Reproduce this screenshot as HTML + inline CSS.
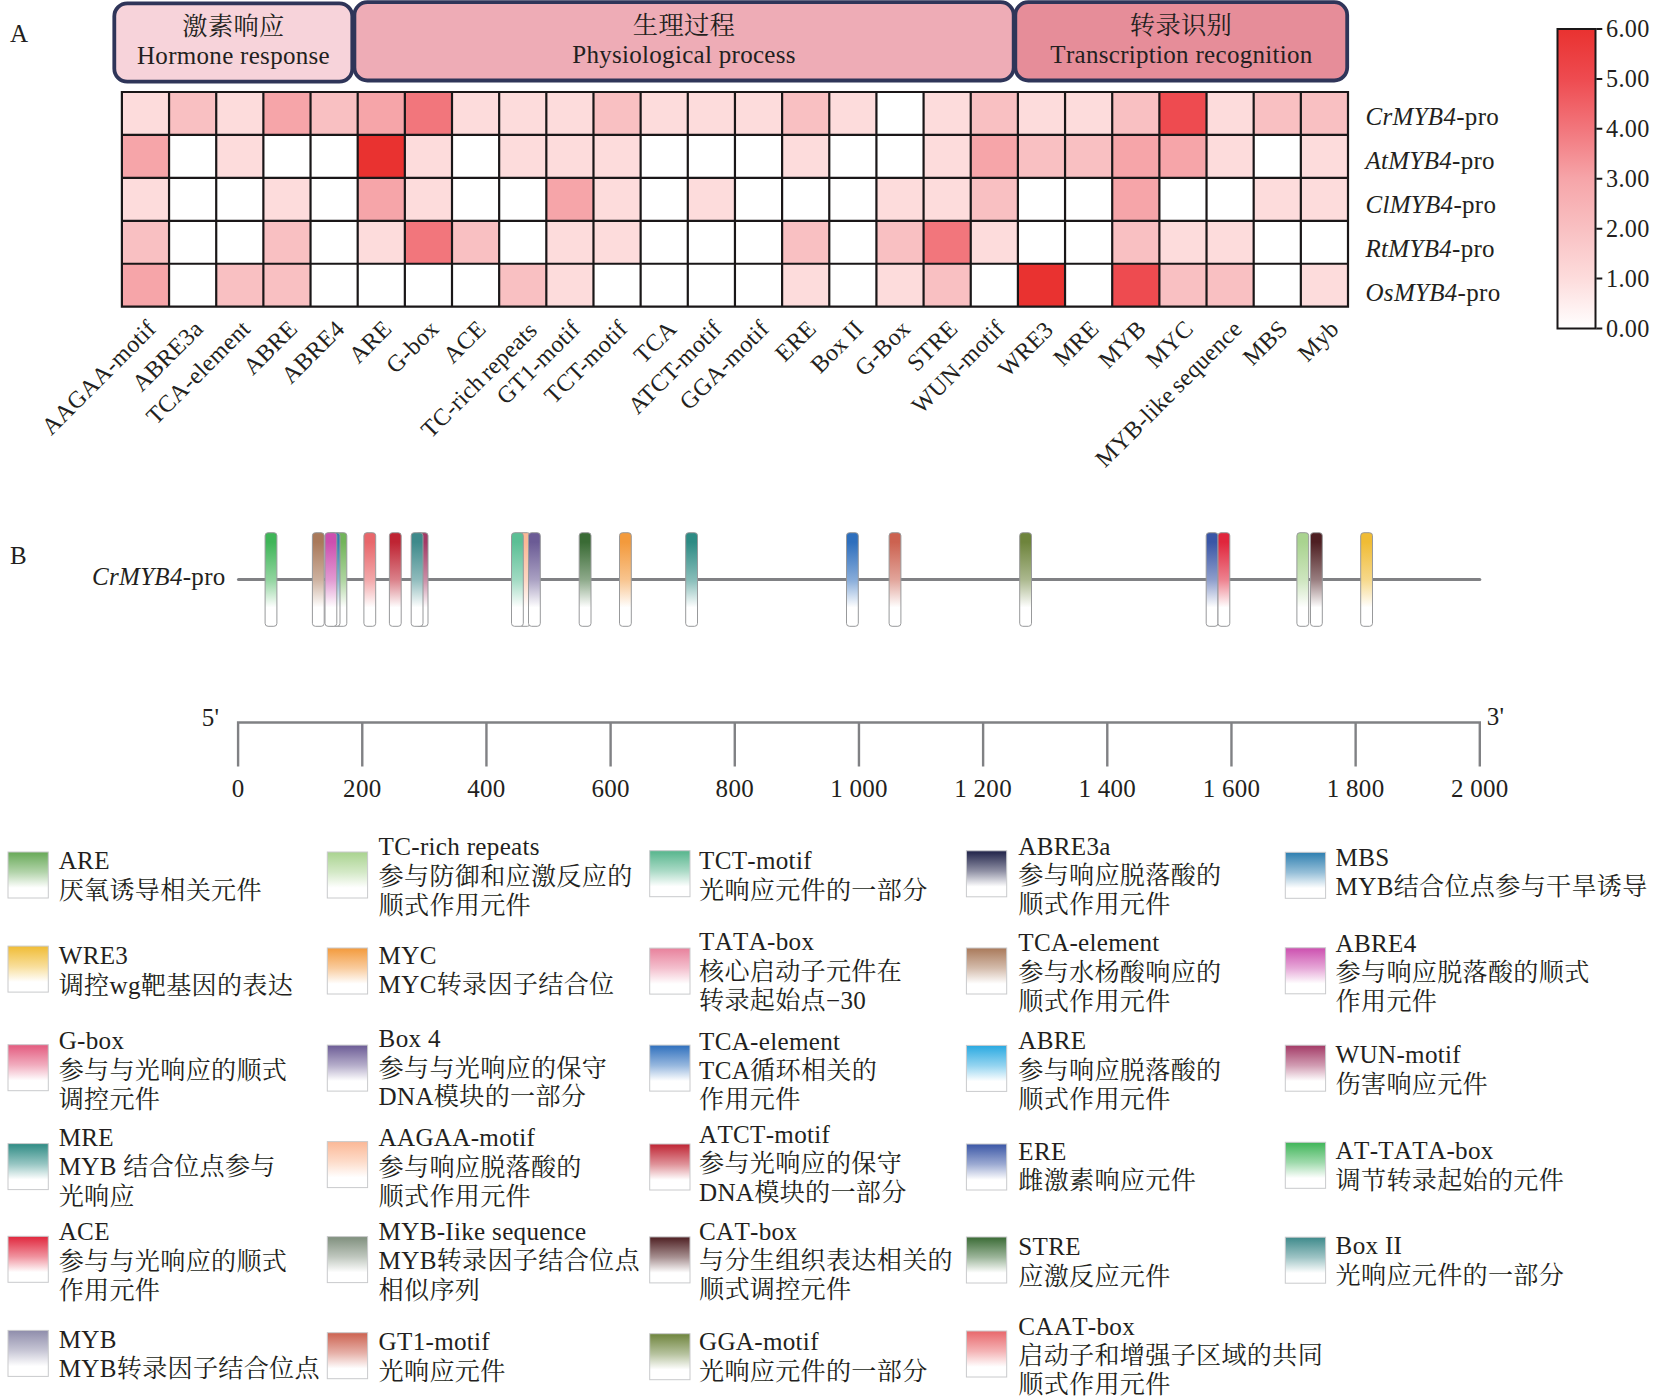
<!DOCTYPE html>
<html lang="zh">
<head>
<meta charset="utf-8">
<title>MYB4 promoter cis-acting elements</title>
<style>
html, body { margin: 0; padding: 0; background: #ffffff; }
body { width: 1654px; height: 1398px; overflow: hidden; }
svg { display: block; font-family: "Liberation Serif", "Noto Serif CJK SC", serif; }
svg text { white-space: pre; letter-spacing: 0.3px; font-kerning: none; }
</style>
</head>
<body>
<svg width="1654" height="1398" viewBox="0 0 1654 1398">
<defs>
<linearGradient id="cb" x1="0" y1="0" x2="0" y2="1"><stop offset="0" stop-color="#e93230"/><stop offset="0.1667" stop-color="#ee4b50"/><stop offset="0.3333" stop-color="#f2767c"/><stop offset="0.5" stop-color="#f6a5a9"/><stop offset="0.6667" stop-color="#f9c0c2"/><stop offset="0.8333" stop-color="#fddcdc"/><stop offset="1" stop-color="#ffffff"/></linearGradient>
<linearGradient id="g0" x1="0" y1="0" x2="0" y2="1"><stop offset="0" stop-color="#3fb558"/><stop offset="0.1" stop-color="#3fb558"/><stop offset="0.500" stop-color="#90d49e"/><stop offset="0.8" stop-color="#ffffff"/><stop offset="1" stop-color="#ffffff"/></linearGradient>
<linearGradient id="g1" x1="0" y1="0" x2="0" y2="1"><stop offset="0" stop-color="#a9795a"/><stop offset="0.1" stop-color="#a9795a"/><stop offset="0.500" stop-color="#cdb19f"/><stop offset="0.8" stop-color="#ffffff"/><stop offset="1" stop-color="#ffffff"/></linearGradient>
<linearGradient id="g2" x1="0" y1="0" x2="0" y2="1"><stop offset="0" stop-color="#72b45a"/><stop offset="0.1" stop-color="#72b45a"/><stop offset="0.500" stop-color="#add49f"/><stop offset="0.8" stop-color="#ffffff"/><stop offset="1" stop-color="#ffffff"/></linearGradient>
<linearGradient id="g3" x1="0" y1="0" x2="0" y2="1"><stop offset="0" stop-color="#2e7fb0"/><stop offset="0.1" stop-color="#2e7fb0"/><stop offset="0.500" stop-color="#86b5d1"/><stop offset="0.8" stop-color="#ffffff"/><stop offset="1" stop-color="#ffffff"/></linearGradient>
<linearGradient id="g4" x1="0" y1="0" x2="0" y2="1"><stop offset="0" stop-color="#cc4faf"/><stop offset="0.1" stop-color="#cc4faf"/><stop offset="0.500" stop-color="#e199d1"/><stop offset="0.8" stop-color="#ffffff"/><stop offset="1" stop-color="#ffffff"/></linearGradient>
<linearGradient id="g5" x1="0" y1="0" x2="0" y2="1"><stop offset="0" stop-color="#e8676b"/><stop offset="0.1" stop-color="#e8676b"/><stop offset="0.500" stop-color="#f2a7a9"/><stop offset="0.8" stop-color="#ffffff"/><stop offset="1" stop-color="#ffffff"/></linearGradient>
<linearGradient id="g6" x1="0" y1="0" x2="0" y2="1"><stop offset="0" stop-color="#bf2433"/><stop offset="0.1" stop-color="#bf2433"/><stop offset="0.500" stop-color="#da8089"/><stop offset="0.8" stop-color="#ffffff"/><stop offset="1" stop-color="#ffffff"/></linearGradient>
<linearGradient id="g7" x1="0" y1="0" x2="0" y2="1"><stop offset="0" stop-color="#a33a66"/><stop offset="0.1" stop-color="#a33a66"/><stop offset="0.500" stop-color="#ca8da6"/><stop offset="0.8" stop-color="#ffffff"/><stop offset="1" stop-color="#ffffff"/></linearGradient>
<linearGradient id="g8" x1="0" y1="0" x2="0" y2="1"><stop offset="0" stop-color="#3e8a8b"/><stop offset="0.1" stop-color="#3e8a8b"/><stop offset="0.500" stop-color="#8fbbbc"/><stop offset="0.8" stop-color="#ffffff"/><stop offset="1" stop-color="#ffffff"/></linearGradient>
<linearGradient id="g9" x1="0" y1="0" x2="0" y2="1"><stop offset="0" stop-color="#fbb896"/><stop offset="0.1" stop-color="#fbb896"/><stop offset="0.500" stop-color="#fdd6c2"/><stop offset="0.8" stop-color="#ffffff"/><stop offset="1" stop-color="#ffffff"/></linearGradient>
<linearGradient id="g10" x1="0" y1="0" x2="0" y2="1"><stop offset="0" stop-color="#5bbf95"/><stop offset="0.1" stop-color="#5bbf95"/><stop offset="0.500" stop-color="#a0dac2"/><stop offset="0.8" stop-color="#ffffff"/><stop offset="1" stop-color="#ffffff"/></linearGradient>
<linearGradient id="g11" x1="0" y1="0" x2="0" y2="1"><stop offset="0" stop-color="#6b5b95"/><stop offset="0.1" stop-color="#6b5b95"/><stop offset="0.500" stop-color="#a9a0c2"/><stop offset="0.8" stop-color="#ffffff"/><stop offset="1" stop-color="#ffffff"/></linearGradient>
<linearGradient id="g12" x1="0" y1="0" x2="0" y2="1"><stop offset="0" stop-color="#3a6b35"/><stop offset="0.1" stop-color="#3a6b35"/><stop offset="0.500" stop-color="#8da98a"/><stop offset="0.8" stop-color="#ffffff"/><stop offset="1" stop-color="#ffffff"/></linearGradient>
<linearGradient id="g13" x1="0" y1="0" x2="0" y2="1"><stop offset="0" stop-color="#f39a3c"/><stop offset="0.1" stop-color="#f39a3c"/><stop offset="0.500" stop-color="#f8c48e"/><stop offset="0.8" stop-color="#ffffff"/><stop offset="1" stop-color="#ffffff"/></linearGradient>
<linearGradient id="g14" x1="0" y1="0" x2="0" y2="1"><stop offset="0" stop-color="#2e8b84"/><stop offset="0.1" stop-color="#2e8b84"/><stop offset="0.500" stop-color="#86bcb8"/><stop offset="0.8" stop-color="#ffffff"/><stop offset="1" stop-color="#ffffff"/></linearGradient>
<linearGradient id="g15" x1="0" y1="0" x2="0" y2="1"><stop offset="0" stop-color="#2e6fbd"/><stop offset="0.1" stop-color="#2e6fbd"/><stop offset="0.500" stop-color="#86abd9"/><stop offset="0.8" stop-color="#ffffff"/><stop offset="1" stop-color="#ffffff"/></linearGradient>
<linearGradient id="g16" x1="0" y1="0" x2="0" y2="1"><stop offset="0" stop-color="#cc6250"/><stop offset="0.1" stop-color="#cc6250"/><stop offset="0.500" stop-color="#e1a49a"/><stop offset="0.8" stop-color="#ffffff"/><stop offset="1" stop-color="#ffffff"/></linearGradient>
<linearGradient id="g17" x1="0" y1="0" x2="0" y2="1"><stop offset="0" stop-color="#6e843c"/><stop offset="0.1" stop-color="#6e843c"/><stop offset="0.500" stop-color="#abb88e"/><stop offset="0.8" stop-color="#ffffff"/><stop offset="1" stop-color="#ffffff"/></linearGradient>
<linearGradient id="g18" x1="0" y1="0" x2="0" y2="1"><stop offset="0" stop-color="#3a56a6"/><stop offset="0.1" stop-color="#3a56a6"/><stop offset="0.500" stop-color="#8d9dcb"/><stop offset="0.8" stop-color="#ffffff"/><stop offset="1" stop-color="#ffffff"/></linearGradient>
<linearGradient id="g19" x1="0" y1="0" x2="0" y2="1"><stop offset="0" stop-color="#e0263c"/><stop offset="0.1" stop-color="#e0263c"/><stop offset="0.500" stop-color="#ed818e"/><stop offset="0.8" stop-color="#ffffff"/><stop offset="1" stop-color="#ffffff"/></linearGradient>
<linearGradient id="g20" x1="0" y1="0" x2="0" y2="1"><stop offset="0" stop-color="#a9d38f"/><stop offset="0.1" stop-color="#a9d38f"/><stop offset="0.500" stop-color="#cde5be"/><stop offset="0.8" stop-color="#ffffff"/><stop offset="1" stop-color="#ffffff"/></linearGradient>
<linearGradient id="g21" x1="0" y1="0" x2="0" y2="1"><stop offset="0" stop-color="#4e1f22"/><stop offset="0.1" stop-color="#4e1f22"/><stop offset="0.500" stop-color="#987d7f"/><stop offset="0.8" stop-color="#ffffff"/><stop offset="1" stop-color="#ffffff"/></linearGradient>
<linearGradient id="g22" x1="0" y1="0" x2="0" y2="1"><stop offset="0" stop-color="#f0bc35"/><stop offset="0.1" stop-color="#f0bc35"/><stop offset="0.500" stop-color="#f6d88a"/><stop offset="0.8" stop-color="#ffffff"/><stop offset="1" stop-color="#ffffff"/></linearGradient>
<linearGradient id="g23" x1="0" y1="0" x2="0" y2="1"><stop offset="0" stop-color="#67a957"/><stop offset="0.0" stop-color="#67a957"/><stop offset="0.440" stop-color="#b3d4ab"/><stop offset="0.78" stop-color="#ffffff"/><stop offset="1" stop-color="#ffffff"/></linearGradient>
<linearGradient id="g24" x1="0" y1="0" x2="0" y2="1"><stop offset="0" stop-color="#f0bc35"/><stop offset="0.0" stop-color="#f0bc35"/><stop offset="0.440" stop-color="#f8de9a"/><stop offset="0.78" stop-color="#ffffff"/><stop offset="1" stop-color="#ffffff"/></linearGradient>
<linearGradient id="g25" x1="0" y1="0" x2="0" y2="1"><stop offset="0" stop-color="#e35a7e"/><stop offset="0.0" stop-color="#e35a7e"/><stop offset="0.440" stop-color="#f1acbe"/><stop offset="0.78" stop-color="#ffffff"/><stop offset="1" stop-color="#ffffff"/></linearGradient>
<linearGradient id="g26" x1="0" y1="0" x2="0" y2="1"><stop offset="0" stop-color="#2e8b84"/><stop offset="0.0" stop-color="#2e8b84"/><stop offset="0.440" stop-color="#96c5c2"/><stop offset="0.78" stop-color="#ffffff"/><stop offset="1" stop-color="#ffffff"/></linearGradient>
<linearGradient id="g27" x1="0" y1="0" x2="0" y2="1"><stop offset="0" stop-color="#e0263c"/><stop offset="0.0" stop-color="#e0263c"/><stop offset="0.440" stop-color="#f0929e"/><stop offset="0.78" stop-color="#ffffff"/><stop offset="1" stop-color="#ffffff"/></linearGradient>
<linearGradient id="g28" x1="0" y1="0" x2="0" y2="1"><stop offset="0" stop-color="#8f8dab"/><stop offset="0.0" stop-color="#8f8dab"/><stop offset="0.440" stop-color="#c7c6d5"/><stop offset="0.78" stop-color="#ffffff"/><stop offset="1" stop-color="#ffffff"/></linearGradient>
<linearGradient id="g29" x1="0" y1="0" x2="0" y2="1"><stop offset="0" stop-color="#a9d38f"/><stop offset="0.0" stop-color="#a9d38f"/><stop offset="0.440" stop-color="#d4e9c7"/><stop offset="0.78" stop-color="#ffffff"/><stop offset="1" stop-color="#ffffff"/></linearGradient>
<linearGradient id="g30" x1="0" y1="0" x2="0" y2="1"><stop offset="0" stop-color="#f39a3c"/><stop offset="0.0" stop-color="#f39a3c"/><stop offset="0.440" stop-color="#f9cc9e"/><stop offset="0.78" stop-color="#ffffff"/><stop offset="1" stop-color="#ffffff"/></linearGradient>
<linearGradient id="g31" x1="0" y1="0" x2="0" y2="1"><stop offset="0" stop-color="#6b5b95"/><stop offset="0.0" stop-color="#6b5b95"/><stop offset="0.440" stop-color="#b5adca"/><stop offset="0.78" stop-color="#ffffff"/><stop offset="1" stop-color="#ffffff"/></linearGradient>
<linearGradient id="g32" x1="0" y1="0" x2="0" y2="1"><stop offset="0" stop-color="#fbb896"/><stop offset="0.0" stop-color="#fbb896"/><stop offset="0.440" stop-color="#fddcca"/><stop offset="0.78" stop-color="#ffffff"/><stop offset="1" stop-color="#ffffff"/></linearGradient>
<linearGradient id="g33" x1="0" y1="0" x2="0" y2="1"><stop offset="0" stop-color="#7f8f7d"/><stop offset="0.0" stop-color="#7f8f7d"/><stop offset="0.440" stop-color="#bfc7be"/><stop offset="0.78" stop-color="#ffffff"/><stop offset="1" stop-color="#ffffff"/></linearGradient>
<linearGradient id="g34" x1="0" y1="0" x2="0" y2="1"><stop offset="0" stop-color="#cc6250"/><stop offset="0.0" stop-color="#cc6250"/><stop offset="0.440" stop-color="#e6b0a8"/><stop offset="0.78" stop-color="#ffffff"/><stop offset="1" stop-color="#ffffff"/></linearGradient>
<linearGradient id="g35" x1="0" y1="0" x2="0" y2="1"><stop offset="0" stop-color="#56b58c"/><stop offset="0.0" stop-color="#56b58c"/><stop offset="0.440" stop-color="#aadac6"/><stop offset="0.78" stop-color="#ffffff"/><stop offset="1" stop-color="#ffffff"/></linearGradient>
<linearGradient id="g36" x1="0" y1="0" x2="0" y2="1"><stop offset="0" stop-color="#e8819c"/><stop offset="0.0" stop-color="#e8819c"/><stop offset="0.440" stop-color="#f4c0ce"/><stop offset="0.78" stop-color="#ffffff"/><stop offset="1" stop-color="#ffffff"/></linearGradient>
<linearGradient id="g37" x1="0" y1="0" x2="0" y2="1"><stop offset="0" stop-color="#2e6fbd"/><stop offset="0.0" stop-color="#2e6fbd"/><stop offset="0.440" stop-color="#96b7de"/><stop offset="0.78" stop-color="#ffffff"/><stop offset="1" stop-color="#ffffff"/></linearGradient>
<linearGradient id="g38" x1="0" y1="0" x2="0" y2="1"><stop offset="0" stop-color="#bf2433"/><stop offset="0.0" stop-color="#bf2433"/><stop offset="0.440" stop-color="#df9299"/><stop offset="0.78" stop-color="#ffffff"/><stop offset="1" stop-color="#ffffff"/></linearGradient>
<linearGradient id="g39" x1="0" y1="0" x2="0" y2="1"><stop offset="0" stop-color="#4e1f22"/><stop offset="0.0" stop-color="#4e1f22"/><stop offset="0.440" stop-color="#a68f90"/><stop offset="0.78" stop-color="#ffffff"/><stop offset="1" stop-color="#ffffff"/></linearGradient>
<linearGradient id="g40" x1="0" y1="0" x2="0" y2="1"><stop offset="0" stop-color="#6e843c"/><stop offset="0.0" stop-color="#6e843c"/><stop offset="0.440" stop-color="#b6c29e"/><stop offset="0.78" stop-color="#ffffff"/><stop offset="1" stop-color="#ffffff"/></linearGradient>
<linearGradient id="g41" x1="0" y1="0" x2="0" y2="1"><stop offset="0" stop-color="#1f2148"/><stop offset="0.0" stop-color="#1f2148"/><stop offset="0.440" stop-color="#8f90a4"/><stop offset="0.78" stop-color="#ffffff"/><stop offset="1" stop-color="#ffffff"/></linearGradient>
<linearGradient id="g42" x1="0" y1="0" x2="0" y2="1"><stop offset="0" stop-color="#a9795a"/><stop offset="0.0" stop-color="#a9795a"/><stop offset="0.440" stop-color="#d4bcac"/><stop offset="0.78" stop-color="#ffffff"/><stop offset="1" stop-color="#ffffff"/></linearGradient>
<linearGradient id="g43" x1="0" y1="0" x2="0" y2="1"><stop offset="0" stop-color="#29a9e1"/><stop offset="0.0" stop-color="#29a9e1"/><stop offset="0.440" stop-color="#94d4f0"/><stop offset="0.78" stop-color="#ffffff"/><stop offset="1" stop-color="#ffffff"/></linearGradient>
<linearGradient id="g44" x1="0" y1="0" x2="0" y2="1"><stop offset="0" stop-color="#3a56a6"/><stop offset="0.0" stop-color="#3a56a6"/><stop offset="0.440" stop-color="#9caad2"/><stop offset="0.78" stop-color="#ffffff"/><stop offset="1" stop-color="#ffffff"/></linearGradient>
<linearGradient id="g45" x1="0" y1="0" x2="0" y2="1"><stop offset="0" stop-color="#3a6b35"/><stop offset="0.0" stop-color="#3a6b35"/><stop offset="0.440" stop-color="#9cb59a"/><stop offset="0.78" stop-color="#ffffff"/><stop offset="1" stop-color="#ffffff"/></linearGradient>
<linearGradient id="g46" x1="0" y1="0" x2="0" y2="1"><stop offset="0" stop-color="#e8676b"/><stop offset="0.0" stop-color="#e8676b"/><stop offset="0.440" stop-color="#f4b3b5"/><stop offset="0.78" stop-color="#ffffff"/><stop offset="1" stop-color="#ffffff"/></linearGradient>
<linearGradient id="g47" x1="0" y1="0" x2="0" y2="1"><stop offset="0" stop-color="#2e7fb0"/><stop offset="0.0" stop-color="#2e7fb0"/><stop offset="0.440" stop-color="#96bfd8"/><stop offset="0.78" stop-color="#ffffff"/><stop offset="1" stop-color="#ffffff"/></linearGradient>
<linearGradient id="g48" x1="0" y1="0" x2="0" y2="1"><stop offset="0" stop-color="#cc4faf"/><stop offset="0.0" stop-color="#cc4faf"/><stop offset="0.440" stop-color="#e6a7d7"/><stop offset="0.78" stop-color="#ffffff"/><stop offset="1" stop-color="#ffffff"/></linearGradient>
<linearGradient id="g49" x1="0" y1="0" x2="0" y2="1"><stop offset="0" stop-color="#a33a66"/><stop offset="0.0" stop-color="#a33a66"/><stop offset="0.440" stop-color="#d19cb2"/><stop offset="0.78" stop-color="#ffffff"/><stop offset="1" stop-color="#ffffff"/></linearGradient>
<linearGradient id="g50" x1="0" y1="0" x2="0" y2="1"><stop offset="0" stop-color="#3fb558"/><stop offset="0.0" stop-color="#3fb558"/><stop offset="0.440" stop-color="#9fdaac"/><stop offset="0.78" stop-color="#ffffff"/><stop offset="1" stop-color="#ffffff"/></linearGradient>
<linearGradient id="g51" x1="0" y1="0" x2="0" y2="1"><stop offset="0" stop-color="#3e8a8b"/><stop offset="0.0" stop-color="#3e8a8b"/><stop offset="0.440" stop-color="#9ec4c5"/><stop offset="0.78" stop-color="#ffffff"/><stop offset="1" stop-color="#ffffff"/></linearGradient>
</defs>
<rect x="114.3" y="3.3" width="238.0" height="78.4" rx="13" ry="13" fill="#f7d3da" stroke="#2f3559" stroke-width="3.8"/>
<rect x="354.4" y="2.2" width="659.3" height="78.3" rx="13" ry="13" fill="#eeacb6" stroke="#2f3559" stroke-width="3.8"/>
<rect x="1015.3" y="2.2" width="331.9" height="78.3" rx="13" ry="13" fill="#e68d99" stroke="#2f3559" stroke-width="3.8"/>
<text x="233.5" y="35.2" font-size="25.3" text-anchor="middle" fill="#231f20" >激素响应</text>
<text x="233.5" y="63.5" font-size="25" text-anchor="middle" fill="#231f20" >Hormone response</text>
<text x="684.0" y="33.8" font-size="25.3" text-anchor="middle" fill="#231f20" >生理过程</text>
<text x="684.0" y="62.5" font-size="25" text-anchor="middle" fill="#231f20" >Physiological process</text>
<text x="1181.0" y="33.8" font-size="25.3" text-anchor="middle" fill="#231f20" >转录识别</text>
<text x="1181.5" y="62.5" font-size="25" text-anchor="middle" fill="#231f20" letter-spacing="0.15">Transcription recognition</text>
<text x="10.0" y="41.5" font-size="25" text-anchor="start" fill="#231f20" >A</text>
<text x="10.0" y="563.6" font-size="25" text-anchor="start" fill="#231f20" >B</text>
<rect x="121.90" y="92.00" width="47.16" height="42.94" fill="#fddcdc"/>
<rect x="169.06" y="92.00" width="47.16" height="42.94" fill="#f9c0c2"/>
<rect x="216.22" y="92.00" width="47.16" height="42.94" fill="#fddcdc"/>
<rect x="263.37" y="92.00" width="47.16" height="42.94" fill="#f6a5a9"/>
<rect x="310.53" y="92.00" width="47.16" height="42.94" fill="#f9c0c2"/>
<rect x="357.69" y="92.00" width="47.16" height="42.94" fill="#f6a5a9"/>
<rect x="404.85" y="92.00" width="47.16" height="42.94" fill="#f2767c"/>
<rect x="452.00" y="92.00" width="47.16" height="42.94" fill="#fddcdc"/>
<rect x="499.16" y="92.00" width="47.16" height="42.94" fill="#fddcdc"/>
<rect x="546.32" y="92.00" width="47.16" height="42.94" fill="#fddcdc"/>
<rect x="593.48" y="92.00" width="47.16" height="42.94" fill="#f9c0c2"/>
<rect x="640.63" y="92.00" width="47.16" height="42.94" fill="#fddcdc"/>
<rect x="687.79" y="92.00" width="47.16" height="42.94" fill="#fddcdc"/>
<rect x="734.95" y="92.00" width="47.16" height="42.94" fill="#fddcdc"/>
<rect x="782.11" y="92.00" width="47.16" height="42.94" fill="#f9c0c2"/>
<rect x="829.27" y="92.00" width="47.16" height="42.94" fill="#fddcdc"/>
<rect x="923.58" y="92.00" width="47.16" height="42.94" fill="#fddcdc"/>
<rect x="970.74" y="92.00" width="47.16" height="42.94" fill="#f9c0c2"/>
<rect x="1017.90" y="92.00" width="47.16" height="42.94" fill="#fddcdc"/>
<rect x="1065.05" y="92.00" width="47.16" height="42.94" fill="#fddcdc"/>
<rect x="1112.21" y="92.00" width="47.16" height="42.94" fill="#f9c0c2"/>
<rect x="1159.37" y="92.00" width="47.16" height="42.94" fill="#ee4b50"/>
<rect x="1206.53" y="92.00" width="47.16" height="42.94" fill="#fddcdc"/>
<rect x="1253.68" y="92.00" width="47.16" height="42.94" fill="#f9c0c2"/>
<rect x="1300.84" y="92.00" width="47.16" height="42.94" fill="#f9c0c2"/>
<rect x="121.90" y="134.94" width="47.16" height="42.94" fill="#f6a5a9"/>
<rect x="216.22" y="134.94" width="47.16" height="42.94" fill="#fddcdc"/>
<rect x="357.69" y="134.94" width="47.16" height="42.94" fill="#e93230"/>
<rect x="404.85" y="134.94" width="47.16" height="42.94" fill="#fddcdc"/>
<rect x="499.16" y="134.94" width="47.16" height="42.94" fill="#fddcdc"/>
<rect x="546.32" y="134.94" width="47.16" height="42.94" fill="#fddcdc"/>
<rect x="593.48" y="134.94" width="47.16" height="42.94" fill="#fddcdc"/>
<rect x="782.11" y="134.94" width="47.16" height="42.94" fill="#fddcdc"/>
<rect x="923.58" y="134.94" width="47.16" height="42.94" fill="#fddcdc"/>
<rect x="970.74" y="134.94" width="47.16" height="42.94" fill="#f6a5a9"/>
<rect x="1017.90" y="134.94" width="47.16" height="42.94" fill="#f9c0c2"/>
<rect x="1065.05" y="134.94" width="47.16" height="42.94" fill="#f9c0c2"/>
<rect x="1112.21" y="134.94" width="47.16" height="42.94" fill="#f6a5a9"/>
<rect x="1159.37" y="134.94" width="47.16" height="42.94" fill="#f6a5a9"/>
<rect x="1206.53" y="134.94" width="47.16" height="42.94" fill="#fddcdc"/>
<rect x="1300.84" y="134.94" width="47.16" height="42.94" fill="#fddcdc"/>
<rect x="121.90" y="177.88" width="47.16" height="42.94" fill="#fddcdc"/>
<rect x="263.37" y="177.88" width="47.16" height="42.94" fill="#fddcdc"/>
<rect x="357.69" y="177.88" width="47.16" height="42.94" fill="#f6a5a9"/>
<rect x="404.85" y="177.88" width="47.16" height="42.94" fill="#fddcdc"/>
<rect x="546.32" y="177.88" width="47.16" height="42.94" fill="#f6a5a9"/>
<rect x="593.48" y="177.88" width="47.16" height="42.94" fill="#fddcdc"/>
<rect x="687.79" y="177.88" width="47.16" height="42.94" fill="#fddcdc"/>
<rect x="876.42" y="177.88" width="47.16" height="42.94" fill="#fddcdc"/>
<rect x="923.58" y="177.88" width="47.16" height="42.94" fill="#fddcdc"/>
<rect x="970.74" y="177.88" width="47.16" height="42.94" fill="#f9c0c2"/>
<rect x="1112.21" y="177.88" width="47.16" height="42.94" fill="#f6a5a9"/>
<rect x="1253.68" y="177.88" width="47.16" height="42.94" fill="#fddcdc"/>
<rect x="1300.84" y="177.88" width="47.16" height="42.94" fill="#fddcdc"/>
<rect x="121.90" y="220.82" width="47.16" height="42.94" fill="#f9c0c2"/>
<rect x="263.37" y="220.82" width="47.16" height="42.94" fill="#f9c0c2"/>
<rect x="357.69" y="220.82" width="47.16" height="42.94" fill="#fddcdc"/>
<rect x="404.85" y="220.82" width="47.16" height="42.94" fill="#f2767c"/>
<rect x="452.00" y="220.82" width="47.16" height="42.94" fill="#f9c0c2"/>
<rect x="546.32" y="220.82" width="47.16" height="42.94" fill="#fddcdc"/>
<rect x="593.48" y="220.82" width="47.16" height="42.94" fill="#fddcdc"/>
<rect x="782.11" y="220.82" width="47.16" height="42.94" fill="#f9c0c2"/>
<rect x="876.42" y="220.82" width="47.16" height="42.94" fill="#f9c0c2"/>
<rect x="923.58" y="220.82" width="47.16" height="42.94" fill="#f2767c"/>
<rect x="970.74" y="220.82" width="47.16" height="42.94" fill="#fddcdc"/>
<rect x="1112.21" y="220.82" width="47.16" height="42.94" fill="#f9c0c2"/>
<rect x="1159.37" y="220.82" width="47.16" height="42.94" fill="#fddcdc"/>
<rect x="1206.53" y="220.82" width="47.16" height="42.94" fill="#fddcdc"/>
<rect x="121.90" y="263.76" width="47.16" height="42.94" fill="#f6a5a9"/>
<rect x="216.22" y="263.76" width="47.16" height="42.94" fill="#f9c0c2"/>
<rect x="263.37" y="263.76" width="47.16" height="42.94" fill="#f9c0c2"/>
<rect x="499.16" y="263.76" width="47.16" height="42.94" fill="#f9c0c2"/>
<rect x="546.32" y="263.76" width="47.16" height="42.94" fill="#fddcdc"/>
<rect x="782.11" y="263.76" width="47.16" height="42.94" fill="#fddcdc"/>
<rect x="876.42" y="263.76" width="47.16" height="42.94" fill="#fddcdc"/>
<rect x="923.58" y="263.76" width="47.16" height="42.94" fill="#f9c0c2"/>
<rect x="1017.90" y="263.76" width="47.16" height="42.94" fill="#e93230"/>
<rect x="1112.21" y="263.76" width="47.16" height="42.94" fill="#ee4b50"/>
<rect x="1159.37" y="263.76" width="47.16" height="42.94" fill="#f9c0c2"/>
<rect x="1206.53" y="263.76" width="47.16" height="42.94" fill="#f9c0c2"/>
<rect x="1300.84" y="263.76" width="47.16" height="42.94" fill="#fddcdc"/>
<path d="M121.90 91.00V307.70M169.06 91.00V307.70M216.22 91.00V307.70M263.37 91.00V307.70M310.53 91.00V307.70M357.69 91.00V307.70M404.85 91.00V307.70M452.00 91.00V307.70M499.16 91.00V307.70M546.32 91.00V307.70M593.48 91.00V307.70M640.63 91.00V307.70M687.79 91.00V307.70M734.95 91.00V307.70M782.11 91.00V307.70M829.27 91.00V307.70M876.42 91.00V307.70M923.58 91.00V307.70M970.74 91.00V307.70M1017.90 91.00V307.70M1065.05 91.00V307.70M1112.21 91.00V307.70M1159.37 91.00V307.70M1206.53 91.00V307.70M1253.68 91.00V307.70M1300.84 91.00V307.70M1348.00 91.00V307.70M120.90 92.00H1349.00M120.90 134.94H1349.00M120.90 177.88H1349.00M120.90 220.82H1349.00M120.90 263.76H1349.00M120.90 306.70H1349.00" stroke="#1a1718" stroke-width="2.2" fill="none"/>
<text transform="translate(157.3 330.2) rotate(-45)" letter-spacing="0" style="font-kerning:normal" font-size="24" text-anchor="end" fill="#231f20">AAGAA-motif</text>
<text transform="translate(204.4 330.2) rotate(-45)" letter-spacing="0" style="font-kerning:normal" font-size="24" text-anchor="end" fill="#231f20">ABRE3a</text>
<text transform="translate(251.6 330.2) rotate(-45)" letter-spacing="0" style="font-kerning:normal" font-size="24" text-anchor="end" fill="#231f20">TCA-element</text>
<text transform="translate(298.8 330.2) rotate(-45)" letter-spacing="0" style="font-kerning:normal" font-size="24" text-anchor="end" fill="#231f20">ABRE</text>
<text transform="translate(345.9 330.2) rotate(-45)" letter-spacing="0" style="font-kerning:normal" font-size="24" text-anchor="end" fill="#231f20">ABRE4</text>
<text transform="translate(393.1 330.2) rotate(-45)" letter-spacing="0" style="font-kerning:normal" font-size="24" text-anchor="end" fill="#231f20">ARE</text>
<text transform="translate(440.2 330.2) rotate(-45)" letter-spacing="0" style="font-kerning:normal" font-size="24" text-anchor="end" fill="#231f20">G-box</text>
<text transform="translate(487.4 330.2) rotate(-45)" letter-spacing="0" style="font-kerning:normal" font-size="24" text-anchor="end" fill="#231f20">ACE</text>
<text transform="translate(538.5 331.7) rotate(-45)" letter-spacing="0" style="font-kerning:normal" word-spacing="-2.2" font-size="24" text-anchor="end" fill="#231f20">TC-rich repeats</text>
<text transform="translate(581.7 330.2) rotate(-45)" letter-spacing="0" style="font-kerning:normal" font-size="24" text-anchor="end" fill="#231f20">GT1-motif</text>
<text transform="translate(628.9 330.2) rotate(-45)" letter-spacing="0" style="font-kerning:normal" font-size="24" text-anchor="end" fill="#231f20">TCT-motif</text>
<text transform="translate(678.0 330.2) rotate(-45)" letter-spacing="0" style="font-kerning:normal" font-size="24" text-anchor="end" fill="#231f20">TCA</text>
<text transform="translate(723.2 330.2) rotate(-45)" letter-spacing="0" style="font-kerning:normal" font-size="24" text-anchor="end" fill="#231f20">ATCT-motif</text>
<text transform="translate(770.3 330.2) rotate(-45)" letter-spacing="0" style="font-kerning:normal" font-size="24" text-anchor="end" fill="#231f20">GGA-motif</text>
<text transform="translate(817.5 330.2) rotate(-45)" letter-spacing="0" style="font-kerning:normal" font-size="24" text-anchor="end" fill="#231f20">ERE</text>
<text transform="translate(864.6 330.2) rotate(-45)" letter-spacing="0" style="font-kerning:normal" word-spacing="-1.0" font-size="24" text-anchor="end" fill="#231f20">Box II</text>
<text transform="translate(911.8 330.2) rotate(-45)" letter-spacing="0" style="font-kerning:normal" font-size="24" text-anchor="end" fill="#231f20">G-Box</text>
<text transform="translate(959.0 330.2) rotate(-45)" letter-spacing="0" style="font-kerning:normal" font-size="24" text-anchor="end" fill="#231f20">STRE</text>
<text transform="translate(1006.1 330.2) rotate(-45)" letter-spacing="0" style="font-kerning:normal" font-size="24" text-anchor="end" fill="#231f20">WUN-motif</text>
<text transform="translate(1054.7 331.3) rotate(-45)" letter-spacing="0" style="font-kerning:normal" font-size="24" text-anchor="end" fill="#231f20">WRE3</text>
<text transform="translate(1100.4 330.2) rotate(-45)" letter-spacing="0" style="font-kerning:normal" font-size="24" text-anchor="end" fill="#231f20">MRE</text>
<text transform="translate(1147.6 330.2) rotate(-45)" letter-spacing="0" style="font-kerning:normal" font-size="24" text-anchor="end" fill="#231f20">MYB</text>
<text transform="translate(1194.7 330.2) rotate(-45)" letter-spacing="0" style="font-kerning:normal" font-size="24" text-anchor="end" fill="#231f20">MYC</text>
<text transform="translate(1243.5 330.2) rotate(-45)" letter-spacing="0" style="font-kerning:normal" word-spacing="-2.0" font-size="24" text-anchor="end" fill="#231f20">MYB-like sequence</text>
<text transform="translate(1289.1 330.2) rotate(-45)" letter-spacing="0" style="font-kerning:normal" font-size="24" text-anchor="end" fill="#231f20">MBS</text>
<text transform="translate(1340.2 330.2) rotate(-45)" letter-spacing="0" style="font-kerning:normal" font-size="24" text-anchor="end" fill="#231f20">Myb</text>
<text x="1365.5" y="124.9" font-size="25" fill="#231f20"><tspan font-style="italic">CrMYB4</tspan>-pro</text>
<text x="1365.5" y="169.0" font-size="25" fill="#231f20"><tspan font-style="italic">AtMYB4</tspan>-pro</text>
<text x="1365.5" y="213.2" font-size="25" fill="#231f20"><tspan font-style="italic">ClMYB4</tspan>-pro</text>
<text x="1365.5" y="257.3" font-size="25" fill="#231f20"><tspan font-style="italic">RtMYB4</tspan>-pro</text>
<text x="1365.5" y="301.4" font-size="25" fill="#231f20"><tspan font-style="italic">OsMYB4</tspan>-pro</text>
<rect x="1557.5" y="29" width="38" height="299.5" fill="url(#cb)" stroke="#1a1718" stroke-width="2"/>
<text x="1606.0" y="37.0" font-size="24.2" text-anchor="start" fill="#231f20" letter-spacing="0">6.00</text>
<text x="1606.0" y="86.9" font-size="24.2" text-anchor="start" fill="#231f20" letter-spacing="0">5.00</text>
<text x="1606.0" y="136.8" font-size="24.2" text-anchor="start" fill="#231f20" letter-spacing="0">4.00</text>
<text x="1606.0" y="186.8" font-size="24.2" text-anchor="start" fill="#231f20" letter-spacing="0">3.00</text>
<text x="1606.0" y="236.7" font-size="24.2" text-anchor="start" fill="#231f20" letter-spacing="0">2.00</text>
<text x="1606.0" y="286.6" font-size="24.2" text-anchor="start" fill="#231f20" letter-spacing="0">1.00</text>
<text x="1606.0" y="336.5" font-size="24.2" text-anchor="start" fill="#231f20" letter-spacing="0">0.00</text>
<path d="M1596.3 29.00h6M1596.3 78.92h6M1596.3 128.83h6M1596.3 178.75h6M1596.3 228.67h6M1596.3 278.58h6M1596.3 328.50h6" stroke="#1a1718" stroke-width="2" fill="none"/>
<line x1="238.5" y1="579.5" x2="1479.8" y2="579.5" stroke="#808184" stroke-width="3.1" stroke-linecap="round"/>
<text x="92.0" y="585.3" font-size="25" text-anchor="start" fill="#231f20" letter-spacing="0.2"><tspan font-style="italic">CrMYB4</tspan>-pro</text>
<rect x="265.10" y="532.7" width="11.8" height="93.6" rx="3" ry="3" fill="url(#g0)" stroke="#98999b" stroke-width="1"/>
<rect x="312.40" y="532.7" width="11.8" height="93.6" rx="3" ry="3" fill="url(#g1)" stroke="#98999b" stroke-width="1"/>
<rect x="335.00" y="532.7" width="11.8" height="93.6" rx="3" ry="3" fill="url(#g2)" stroke="#98999b" stroke-width="1"/>
<rect x="328.20" y="532.7" width="11.8" height="93.6" rx="3" ry="3" fill="url(#g3)" stroke="#98999b" stroke-width="1"/>
<rect x="325.00" y="532.7" width="11.8" height="93.6" rx="3" ry="3" fill="url(#g4)" stroke="#98999b" stroke-width="1"/>
<rect x="363.90" y="532.7" width="11.8" height="93.6" rx="3" ry="3" fill="url(#g5)" stroke="#98999b" stroke-width="1"/>
<rect x="389.40" y="532.7" width="11.8" height="93.6" rx="3" ry="3" fill="url(#g6)" stroke="#98999b" stroke-width="1"/>
<rect x="416.20" y="532.7" width="11.8" height="93.6" rx="3" ry="3" fill="url(#g7)" stroke="#98999b" stroke-width="1"/>
<rect x="411.20" y="532.7" width="11.8" height="93.6" rx="3" ry="3" fill="url(#g8)" stroke="#98999b" stroke-width="1"/>
<rect x="518.60" y="532.7" width="11.8" height="93.6" rx="3" ry="3" fill="url(#g9)" stroke="#98999b" stroke-width="1"/>
<rect x="511.50" y="532.7" width="11.8" height="93.6" rx="3" ry="3" fill="url(#g10)" stroke="#98999b" stroke-width="1"/>
<rect x="528.50" y="532.7" width="11.8" height="93.6" rx="3" ry="3" fill="url(#g11)" stroke="#98999b" stroke-width="1"/>
<rect x="579.20" y="532.7" width="11.8" height="93.6" rx="3" ry="3" fill="url(#g12)" stroke="#98999b" stroke-width="1"/>
<rect x="619.50" y="532.7" width="11.8" height="93.6" rx="3" ry="3" fill="url(#g13)" stroke="#98999b" stroke-width="1"/>
<rect x="685.70" y="532.7" width="11.8" height="93.6" rx="3" ry="3" fill="url(#g14)" stroke="#98999b" stroke-width="1"/>
<rect x="846.50" y="532.7" width="11.8" height="93.6" rx="3" ry="3" fill="url(#g15)" stroke="#98999b" stroke-width="1"/>
<rect x="889.10" y="532.7" width="11.8" height="93.6" rx="3" ry="3" fill="url(#g16)" stroke="#98999b" stroke-width="1"/>
<rect x="1019.70" y="532.7" width="11.8" height="93.6" rx="3" ry="3" fill="url(#g17)" stroke="#98999b" stroke-width="1"/>
<rect x="1206.20" y="532.7" width="11.8" height="93.6" rx="3" ry="3" fill="url(#g18)" stroke="#98999b" stroke-width="1"/>
<rect x="1218.00" y="532.7" width="11.8" height="93.6" rx="3" ry="3" fill="url(#g19)" stroke="#98999b" stroke-width="1"/>
<rect x="1296.90" y="532.7" width="11.8" height="93.6" rx="3" ry="3" fill="url(#g20)" stroke="#98999b" stroke-width="1"/>
<rect x="1310.50" y="532.7" width="11.8" height="93.6" rx="3" ry="3" fill="url(#g21)" stroke="#98999b" stroke-width="1"/>
<rect x="1360.70" y="532.7" width="11.8" height="93.6" rx="3" ry="3" fill="url(#g22)" stroke="#98999b" stroke-width="1"/>
<text x="238.1" y="796.7" font-size="25" text-anchor="middle" fill="#231f20" letter-spacing="0.4">0</text>
<text x="362.3" y="796.7" font-size="25" text-anchor="middle" fill="#231f20" letter-spacing="0.4">200</text>
<text x="486.4" y="796.7" font-size="25" text-anchor="middle" fill="#231f20" letter-spacing="0.4">400</text>
<text x="610.6" y="796.7" font-size="25" text-anchor="middle" fill="#231f20" letter-spacing="0.4">600</text>
<text x="734.8" y="796.7" font-size="25" text-anchor="middle" fill="#231f20" letter-spacing="0.4">800</text>
<text x="859.0" y="796.7" font-size="25" text-anchor="middle" fill="#231f20" letter-spacing="0.4">1 000</text>
<text x="983.1" y="796.7" font-size="25" text-anchor="middle" fill="#231f20" letter-spacing="0.4">1 200</text>
<text x="1107.3" y="796.7" font-size="25" text-anchor="middle" fill="#231f20" letter-spacing="0.4">1 400</text>
<text x="1231.5" y="796.7" font-size="25" text-anchor="middle" fill="#231f20" letter-spacing="0.4">1 600</text>
<text x="1355.6" y="796.7" font-size="25" text-anchor="middle" fill="#231f20" letter-spacing="0.4">1 800</text>
<text x="1479.8" y="796.7" font-size="25" text-anchor="middle" fill="#231f20" letter-spacing="0.4">2 000</text>
<path d="M236.9 722.5H1481.0M238.10 722.5V766.4M362.27 722.5V766.4M486.44 722.5V766.4M610.61 722.5V766.4M734.78 722.5V766.4M858.95 722.5V766.4M983.12 722.5V766.4M1107.29 722.5V766.4M1231.46 722.5V766.4M1355.63 722.5V766.4M1479.80 722.5V766.4" stroke="#808184" stroke-width="2.4" fill="none"/>
<text x="201.8" y="726.0" font-size="25" text-anchor="start" fill="#231f20" >5'</text>
<text x="1486.8" y="724.8" font-size="25" text-anchor="start" fill="#231f20" >3'</text>
<rect x="8.0" y="852.0" width="40.3" height="46.0" fill="url(#g23)" stroke="#c9cacc" stroke-width="1"/>
<text x="58.7" y="869.2" font-size="25.1" text-anchor="start" fill="#231f20" >ARE</text>
<text x="58.7" y="898.9" font-size="25.1" text-anchor="start" fill="#231f20" >厌氧诱导相关元件</text>
<rect x="8.0" y="946.1" width="40.3" height="46.0" fill="url(#g24)" stroke="#c9cacc" stroke-width="1"/>
<text x="58.7" y="963.8" font-size="25.1" text-anchor="start" fill="#231f20" >WRE3</text>
<text x="58.7" y="993.5" font-size="25.1" text-anchor="start" fill="#231f20" >调控wg靶基因的表达</text>
<rect x="8.0" y="1044.7" width="40.3" height="46.0" fill="url(#g25)" stroke="#c9cacc" stroke-width="1"/>
<text x="58.7" y="1048.9" font-size="25.1" text-anchor="start" fill="#231f20" >G-box</text>
<text x="58.7" y="1078.6" font-size="25.1" text-anchor="start" fill="#231f20" >参与与光响应的顺式</text>
<text x="58.7" y="1107.6" font-size="25.1" text-anchor="start" fill="#231f20" >调控元件</text>
<rect x="8.0" y="1143.6" width="40.3" height="46.0" fill="url(#g26)" stroke="#c9cacc" stroke-width="1"/>
<text x="58.7" y="1146.2" font-size="25.1" text-anchor="start" fill="#231f20" >MRE</text>
<text x="58.7" y="1175.2" font-size="25.1" text-anchor="start" fill="#231f20" >MYB 结合位点参与</text>
<text x="58.7" y="1204.9" font-size="25.1" text-anchor="start" fill="#231f20" >光响应</text>
<rect x="8.0" y="1236.3" width="40.3" height="46.0" fill="url(#g27)" stroke="#c9cacc" stroke-width="1"/>
<text x="58.7" y="1240.2" font-size="25.1" text-anchor="start" fill="#231f20" >ACE</text>
<text x="58.7" y="1269.9" font-size="25.1" text-anchor="start" fill="#231f20" >参与与光响应的顺式</text>
<text x="58.7" y="1298.9" font-size="25.1" text-anchor="start" fill="#231f20" >作用元件</text>
<rect x="8.0" y="1330.4" width="40.3" height="46.0" fill="url(#g28)" stroke="#c9cacc" stroke-width="1"/>
<text x="58.7" y="1347.5" font-size="25.1" text-anchor="start" fill="#231f20" >MYB</text>
<text x="58.7" y="1376.5" font-size="25.1" text-anchor="start" fill="#231f20" >MYB转录因子结合位点</text>
<rect x="327.3" y="852.0" width="40.3" height="46.0" fill="url(#g29)" stroke="#c9cacc" stroke-width="1"/>
<text x="378.6" y="854.9" font-size="25.1" text-anchor="start" fill="#231f20" >TC-rich repeats</text>
<text x="378.6" y="884.6" font-size="25.1" text-anchor="start" fill="#231f20" >参与防御和应激反应的</text>
<text x="378.6" y="913.6" font-size="25.1" text-anchor="start" fill="#231f20" >顺式作用元件</text>
<rect x="327.3" y="948.0" width="40.3" height="46.0" fill="url(#g30)" stroke="#c9cacc" stroke-width="1"/>
<text x="378.6" y="964.0" font-size="25.1" text-anchor="start" fill="#231f20" >MYC</text>
<text x="378.6" y="993.0" font-size="25.1" text-anchor="start" fill="#231f20" >MYC转录因子结合位</text>
<rect x="327.3" y="1045.1" width="40.3" height="46.0" fill="url(#g31)" stroke="#c9cacc" stroke-width="1"/>
<text x="378.6" y="1046.9" font-size="25.1" text-anchor="start" fill="#231f20" >Box 4</text>
<text x="378.6" y="1076.6" font-size="25.1" text-anchor="start" fill="#231f20" >参与与光响应的保守</text>
<text x="378.6" y="1104.9" font-size="25.1" text-anchor="start" fill="#231f20" >DNA模块的一部分</text>
<rect x="327.3" y="1141.6" width="40.3" height="46.0" fill="url(#g32)" stroke="#c9cacc" stroke-width="1"/>
<text x="378.6" y="1146.1" font-size="25.1" text-anchor="start" fill="#231f20" >AAGAA-motif</text>
<text x="378.6" y="1175.8" font-size="25.1" text-anchor="start" fill="#231f20" >参与响应脱落酸的</text>
<text x="378.6" y="1204.8" font-size="25.1" text-anchor="start" fill="#231f20" >顺式作用元件</text>
<rect x="327.3" y="1236.6" width="40.3" height="46.0" fill="url(#g33)" stroke="#c9cacc" stroke-width="1"/>
<text x="378.6" y="1240.0" font-size="25.1" text-anchor="start" fill="#231f20" >MYB-Iike sequence</text>
<text x="378.6" y="1269.0" font-size="25.1" text-anchor="start" fill="#231f20" >MYB转录因子结合位点</text>
<text x="378.6" y="1298.7" font-size="25.1" text-anchor="start" fill="#231f20" >相似序列</text>
<rect x="327.3" y="1332.7" width="40.3" height="46.0" fill="url(#g34)" stroke="#c9cacc" stroke-width="1"/>
<text x="378.6" y="1350.2" font-size="25.1" text-anchor="start" fill="#231f20" >GT1-motif</text>
<text x="378.6" y="1379.9" font-size="25.1" text-anchor="start" fill="#231f20" >光响应元件</text>
<rect x="649.7" y="850.7" width="40.3" height="46.0" fill="url(#g35)" stroke="#c9cacc" stroke-width="1"/>
<text x="699.0" y="868.9" font-size="25.1" text-anchor="start" fill="#231f20" >TCT-motif</text>
<text x="699.0" y="898.6" font-size="25.1" text-anchor="start" fill="#231f20" >光响应元件的一部分</text>
<rect x="649.7" y="948.1" width="40.3" height="46.0" fill="url(#g36)" stroke="#c9cacc" stroke-width="1"/>
<text x="699.0" y="949.9" font-size="25.1" text-anchor="start" fill="#231f20" >TATA-box</text>
<text x="699.0" y="979.6" font-size="25.1" text-anchor="start" fill="#231f20" >核心启动子元件在</text>
<text x="699.0" y="1008.6" font-size="25.1" text-anchor="start" fill="#231f20" >转录起始点−30</text>
<rect x="649.7" y="1045.1" width="40.3" height="46.0" fill="url(#g37)" stroke="#c9cacc" stroke-width="1"/>
<text x="699.0" y="1049.5" font-size="25.1" text-anchor="start" fill="#231f20" >TCA-element</text>
<text x="699.0" y="1078.5" font-size="25.1" text-anchor="start" fill="#231f20" >TCA循环相关的</text>
<text x="699.0" y="1108.2" font-size="25.1" text-anchor="start" fill="#231f20" >作用元件</text>
<rect x="649.7" y="1144.0" width="40.3" height="46.0" fill="url(#g38)" stroke="#c9cacc" stroke-width="1"/>
<text x="699.0" y="1142.7" font-size="25.1" text-anchor="start" fill="#231f20" >ATCT-motif</text>
<text x="699.0" y="1172.4" font-size="25.1" text-anchor="start" fill="#231f20" >参与光响应的保守</text>
<text x="699.0" y="1200.7" font-size="25.1" text-anchor="start" fill="#231f20" >DNA模块的一部分</text>
<rect x="649.7" y="1236.9" width="40.3" height="46.0" fill="url(#g39)" stroke="#c9cacc" stroke-width="1"/>
<text x="699.0" y="1239.7" font-size="25.1" text-anchor="start" fill="#231f20" >CAT-box</text>
<text x="699.0" y="1269.4" font-size="25.1" text-anchor="start" fill="#231f20" >与分生组织表达相关的</text>
<text x="699.0" y="1298.4" font-size="25.1" text-anchor="start" fill="#231f20" >顺式调控元件</text>
<rect x="649.7" y="1333.7" width="40.3" height="46.0" fill="url(#g40)" stroke="#c9cacc" stroke-width="1"/>
<text x="699.0" y="1349.8" font-size="25.1" text-anchor="start" fill="#231f20" >GGA-motif</text>
<text x="699.0" y="1379.5" font-size="25.1" text-anchor="start" fill="#231f20" >光响应元件的一部分</text>
<rect x="966.4" y="850.8" width="40.3" height="46.0" fill="url(#g41)" stroke="#c9cacc" stroke-width="1"/>
<text x="1018.3" y="854.7" font-size="25.1" text-anchor="start" fill="#231f20" >ABRE3a</text>
<text x="1018.3" y="884.4" font-size="25.1" text-anchor="start" fill="#231f20" >参与响应脱落酸的</text>
<text x="1018.3" y="913.4" font-size="25.1" text-anchor="start" fill="#231f20" >顺式作用元件</text>
<rect x="966.4" y="948.0" width="40.3" height="46.0" fill="url(#g42)" stroke="#c9cacc" stroke-width="1"/>
<text x="1018.3" y="951.3" font-size="25.1" text-anchor="start" fill="#231f20" >TCA-element</text>
<text x="1018.3" y="981.0" font-size="25.1" text-anchor="start" fill="#231f20" >参与水杨酸响应的</text>
<text x="1018.3" y="1010.0" font-size="25.1" text-anchor="start" fill="#231f20" >顺式作用元件</text>
<rect x="966.4" y="1045.4" width="40.3" height="46.0" fill="url(#g43)" stroke="#c9cacc" stroke-width="1"/>
<text x="1018.3" y="1048.8" font-size="25.1" text-anchor="start" fill="#231f20" >ABRE</text>
<text x="1018.3" y="1078.5" font-size="25.1" text-anchor="start" fill="#231f20" >参与响应脱落酸的</text>
<text x="1018.3" y="1107.5" font-size="25.1" text-anchor="start" fill="#231f20" >顺式作用元件</text>
<rect x="966.4" y="1144.0" width="40.3" height="46.0" fill="url(#g44)" stroke="#c9cacc" stroke-width="1"/>
<text x="1018.3" y="1159.5" font-size="25.1" text-anchor="start" fill="#231f20" >ERE</text>
<text x="1018.3" y="1189.2" font-size="25.1" text-anchor="start" fill="#231f20" >雌激素响应元件</text>
<rect x="966.4" y="1237.0" width="40.3" height="46.0" fill="url(#g45)" stroke="#c9cacc" stroke-width="1"/>
<text x="1018.3" y="1254.8" font-size="25.1" text-anchor="start" fill="#231f20" >STRE</text>
<text x="1018.3" y="1284.5" font-size="25.1" text-anchor="start" fill="#231f20" >应激反应元件</text>
<rect x="966.4" y="1331.0" width="40.3" height="46.0" fill="url(#g46)" stroke="#c9cacc" stroke-width="1"/>
<text x="1018.3" y="1334.5" font-size="25.1" text-anchor="start" fill="#231f20" >CAAT-box</text>
<text x="1018.3" y="1364.2" font-size="25.1" text-anchor="start" fill="#231f20" >启动子和增强子区域的共同</text>
<text x="1018.3" y="1393.2" font-size="25.1" text-anchor="start" fill="#231f20" >顺式作用元件</text>
<rect x="1285.3" y="852.3" width="40.3" height="46.0" fill="url(#g47)" stroke="#c9cacc" stroke-width="1"/>
<text x="1335.6" y="866.4" font-size="25.1" text-anchor="start" fill="#231f20" >MBS</text>
<text x="1335.6" y="895.4" font-size="25.1" text-anchor="start" fill="#231f20" >MYB结合位点参与干旱诱导</text>
<rect x="1285.3" y="947.8" width="40.3" height="46.0" fill="url(#g48)" stroke="#c9cacc" stroke-width="1"/>
<text x="1335.6" y="951.6" font-size="25.1" text-anchor="start" fill="#231f20" >ABRE4</text>
<text x="1335.6" y="981.3" font-size="25.1" text-anchor="start" fill="#231f20" >参与响应脱落酸的顺式</text>
<text x="1335.6" y="1010.3" font-size="25.1" text-anchor="start" fill="#231f20" >作用元件</text>
<rect x="1285.3" y="1045.2" width="40.3" height="46.0" fill="url(#g49)" stroke="#c9cacc" stroke-width="1"/>
<text x="1335.6" y="1063.1" font-size="25.1" text-anchor="start" fill="#231f20" >WUN-motif</text>
<text x="1335.6" y="1092.8" font-size="25.1" text-anchor="start" fill="#231f20" >伤害响应元件</text>
<rect x="1285.3" y="1142.3" width="40.3" height="46.0" fill="url(#g50)" stroke="#c9cacc" stroke-width="1"/>
<text x="1335.6" y="1159.1" font-size="25.1" text-anchor="start" fill="#231f20" >AT-TATA-box</text>
<text x="1335.6" y="1188.8" font-size="25.1" text-anchor="start" fill="#231f20" >调节转录起始的元件</text>
<rect x="1285.3" y="1237.2" width="40.3" height="46.0" fill="url(#g51)" stroke="#c9cacc" stroke-width="1"/>
<text x="1335.6" y="1254.4" font-size="25.1" text-anchor="start" fill="#231f20" >Box II</text>
<text x="1335.6" y="1284.1" font-size="25.1" text-anchor="start" fill="#231f20" >光响应元件的一部分</text>
</svg>
</body>
</html>
